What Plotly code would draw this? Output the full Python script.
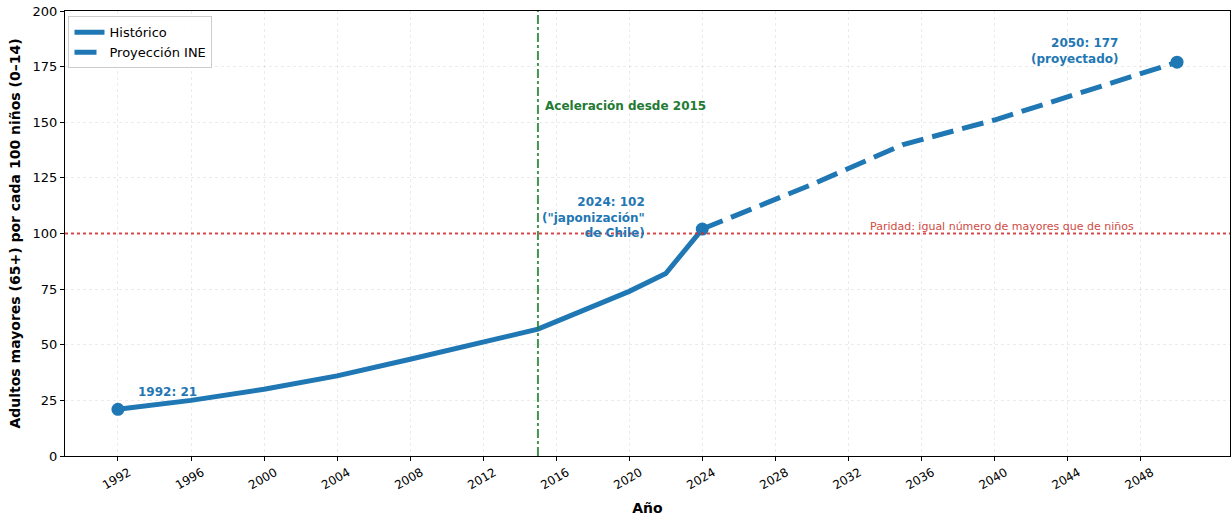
import plotly.graph_objects as go

# Datos
anios_hist = [1992, 1996, 2000, 2004, 2008, 2012, 2015, 2020, 2022, 2024]
indice_hist = [21, 25, 30, 36, 43.5, 51, 57, 74, 82, 102]

anios_proy = [2024, 2030, 2035, 2040, 2045, 2050]
indice_proy = [102, 122, 140, 151, 164, 177]

anios_marcados = [1992, 2024, 2050]
indice_marcados = [21, 102, 177]

ticks_x = list(range(1992, 2049, 4))
ticks_y = list(range(0, 201, 25))

azul = '#1f77b4'
fuente = 'DejaVu Sans'

fig = go.Figure()

fig.add_trace(go.Scatter(
    x=anios_hist, y=indice_hist, mode='lines', name='Histórico',
    line=dict(color=azul, width=5)
))
fig.add_trace(go.Scatter(
    x=anios_proy, y=indice_proy, mode='lines', name='Proyección INE',
    line=dict(color=azul, width=5, dash='22px,9px')
))
fig.add_trace(go.Scatter(
    x=anios_marcados, y=indice_marcados, mode='markers', showlegend=False,
    marker=dict(color=azul, size=13)
))

# Líneas de referencia
fig.add_shape(type='line', xref='x', yref='paper', x0=2015, x1=2015, y0=0, y1=1,
              line=dict(color='rgba(34,128,50,0.85)', width=2, dash='dashdot'))
fig.add_shape(type='line', xref='paper', yref='y', x0=0, x1=1, y0=100, y1=100,
              line=dict(color='rgba(214,40,40,0.85)', width=1.8, dash='dot'))

# Anotaciones
fig.add_annotation(x=1993, y=28.8, text='<b>1992: 21</b>', showarrow=False,
                   xanchor='left', font=dict(family=fuente, size=12, color=azul))
fig.add_annotation(x=2020.95, y=107, text='<b>2024: 102<br>("japonización"<br>de Chile)</b>',
                   showarrow=False, xanchor='right', align='right',
                   font=dict(family=fuente, size=12, color=azul))
fig.add_annotation(x=2046.9, y=182, text='<b>2050: 177<br>(proyectado)</b>',
                   showarrow=False, xanchor='right', align='right',
                   font=dict(family=fuente, size=12, color=azul))
fig.add_annotation(x=2015.3, y=157.3, text='<b>Aceleración desde 2015</b>', showarrow=False,
                   xanchor='left', font=dict(family=fuente, size=12, color='#237a33'))
fig.add_annotation(x=2033.05, y=103, text='Paridad: igual número de mayores que de niños',
                   showarrow=False, xanchor='left',
                   font=dict(family=fuente, size=11, color='#d04a43'))

fig.update_layout(
    width=1232, height=518,
    margin=dict(l=65, r=2, t=11, b=62),
    plot_bgcolor='white', paper_bgcolor='white',
    font=dict(family=fuente, size=12, color='black'),
    legend=dict(x=0.003, y=0.988, xanchor='left', yanchor='top',
                bgcolor='rgba(255,255,255,0.9)', bordercolor='#cccccc', borderwidth=1,
                font=dict(family=fuente, size=13)),
    xaxis=dict(
        range=[1989.1, 2052.9], tickvals=ticks_x, tickangle=-30,
        automargin=False, ticklabelshift=11,
        showgrid=True, gridcolor='rgba(0,0,0,0.08)', griddash='dot',
        showline=True, linecolor='black', linewidth=1, mirror=True,
        ticks='outside', ticklen=4, tickcolor='black',
        tickfont=dict(family=fuente, size=12),
        title=dict(text='<b>Año</b>', font=dict(family=fuente, size=14), standoff=11),
        zeroline=False
    ),
    yaxis=dict(
        range=[0, 200], tickvals=ticks_y, automargin=False,
        ticklabeloverflow='allow',
        showgrid=True, gridcolor='rgba(0,0,0,0.08)', griddash='dot',
        showline=True, linecolor='black', linewidth=1, mirror=True,
        ticks='outside', ticklen=4, tickcolor='black',
        tickfont=dict(family=fuente, size=13),
        title=dict(text='<b>Adultos mayores (65+) por cada 100 niños (0–14)</b>',
                   font=dict(family=fuente, size=14), standoff=8),
        zeroline=False
    ),
)

# quitar el margen por defecto del body para que la figura quede en (0, 0)
fig.write_html("out.html", config={'displayModeBar': False},
               post_script="document.body.style.margin='0';")
